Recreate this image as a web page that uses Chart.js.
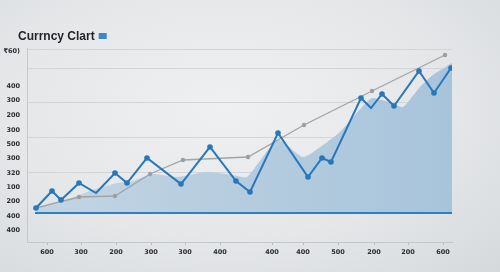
<!DOCTYPE html>
<html>
<head>
<meta charset="utf-8">
<script src="https://cdn.jsdelivr.net/npm/chart.js@4"></script>
<style>
  html, body { margin:0; padding:0; width:500px; height:272px; overflow:hidden;
    background: radial-gradient(ellipse at 45% 40%, #eef0f1 0%, #e5e7e9 55%, #d6d9dc 100%); }
  #wrap { position:relative; width:500px; height:272px; }
</style>
</head>
<body>
<div id="wrap"><canvas id="c" width="500" height="272"></canvas></div>
<script>
// ---- Data ----
const chartTitle = 'Currncy Clart';
const xTickPos    = [20, 54, 89, 124, 158, 193, 245, 276, 311, 347, 381, 416];
const xTickLabels = ['600','300','200','300','300','400','400','400','500','200','200','600'];
const yTickPos    = [191, 156, 142, 127, 112, 98, 84, 69, 55, 41, 26, 12];
const yTickLabels = ['₹60)','400','300','200','300','500','300','320','100','200','400','400'];
const yGridPos    = [193, 174, 140, 105, 70];

const rateX = [9, 25, 34, 52, 69, 88, 100, 120, 154, 183, 209, 223, 251, 281, 295, 304, 334, 344, 355, 367, 392, 407, 424];
const rateY = [34, 51, 42, 59, 49, 69, 59, 84, 58, 95, 61, 50, 109, 65, 84, 80, 144, 134, 148, 136, 171, 149, 174];
const rateDot = [1,1,1,1,0,1,1,1,1,1,1,1,1,1,1,1,1,0,1,1,1,1,1];

const trendX = [9, 52, 88, 123, 156, 221, 277, 345, 418];
const trendY = [34, 45, 46, 68, 82, 85, 117, 151, 187];

const areaX = [9, 33, 60, 90, 103, 126, 150, 180, 206, 220, 251, 276, 296, 313, 335, 345, 355, 365, 376, 393, 406, 425];
const areaY = [34, 39, 50, 59, 60, 68, 65, 70, 67, 65, 102, 85, 97, 110, 135, 144, 142, 139, 135, 155, 167, 179];

const baseLevel = 29;
const baseFrom = 8, baseTo = 425;

const toPts = (xs, ys) => xs.map((x, i) => ({ x: x, y: ys[i] }));

const titlePlugin = {
  id: 'titleSq',
  afterDraw(chart) {
    const c = chart.ctx;
    c.save();
    c.font = 'bold 12px "Liberation Sans", Arial, sans-serif';
    c.fillStyle = '#1f2226';
    c.textBaseline = 'alphabetic';
    c.textAlign = 'left';
    c.fillText(chartTitle, 18, 40);
    const w = c.measureText(chartTitle).width;
    c.fillStyle = '#3b87c9';
    c.fillRect(18 + w + 4, 33, 8, 6);
    c.restore();
  }
};

const tickFont = { family: '"DejaVu Sans", "Noto Sans", sans-serif', size: 6.5, weight: 'bold' };

new Chart(document.getElementById('c'), {
  type: 'line',
  data: {
    datasets: [
      {
        label: 'rate', data: toPts(rateX, rateY), order: 0,
        borderColor: '#2677bb', borderWidth: 2, tension: 0,
        pointRadius: rateDot.map(d => d ? 2.8 : 0), pointBackgroundColor: '#2677bb', pointBorderWidth: 0,
        fill: false
      },
      {
        label: 'trend', data: toPts(trendX, trendY), order: 1,
        borderColor: '#a2a4a6', borderWidth: 1.3, tension: 0,
        pointRadius: 2.2, pointBackgroundColor: '#9c9ea0', pointBorderWidth: 0,
        fill: false
      },
      {
        label: 'base', data: [{x: baseFrom, y: baseLevel}, {x: baseTo, y: baseLevel}], order: 2,
        borderColor: '#2f7fc1', borderWidth: 2, pointRadius: 0, fill: false
      },
      {
        label: 'area', data: toPts(areaX, areaY), order: 3,
        borderWidth: 0, pointRadius: 0, tension: 0.2,
        fill: { value: baseLevel },
        backgroundColor: (ctx) => {
          const ca = ctx.chart.chartArea;
          if (!ca) return '#b5cde0';
          const g = ctx.chart.ctx.createLinearGradient(ca.left, 0, ca.right, 0);
          g.addColorStop(0, '#c3d5e3');
          g.addColorStop(1, '#a8c4db');
          return g;
        }
      }
    ]
  },
  options: {
    responsive: false, animation: false,
    layout: { padding: { top: 48, right: 48, left: 0, bottom: 0 } },
    plugins: { legend: { display: false }, tooltip: { enabled: false }, title: { display: false } },
    scales: {
      x: {
        type: 'linear', position: 'bottom', min: 0, max: 425,
        afterBuildTicks: (s) => { s.ticks = xTickPos.map(v => ({ value: v })); },
        afterFit: (s) => { s.height = 30; },
        ticks: {
          autoSkip: false, maxRotation: 0, padding: 3, color: '#2b2d30', font: tickFont,
          callback: (v, i) => xTickLabels[i]
        },
        grid: { drawOnChartArea: false, tickLength: 3, color: '#b7bbbf' },
        border: { color: '#c4c7ca', width: 1 }
      },
      yl: {
        type: 'linear', position: 'left', min: 0, max: 194,
        afterBuildTicks: (s) => { s.ticks = yTickPos.map(v => ({ value: v })); },
        afterFit: (s) => { s.width = 27; },
        ticks: {
          autoSkip: false, padding: 7, color: '#2b2d30', font: tickFont,
          callback: (v, i) => yTickLabels[i]
        },
        grid: { display: false, drawTicks: false },
        border: { display: true, color: '#c6c9cc', width: 1 }
      },
      y: {
        type: 'linear', position: 'right', min: 0, max: 194,
        afterBuildTicks: (s) => { s.ticks = yGridPos.map(v => ({ value: v })); },
        afterFit: (s) => { s.width = 0; },
        ticks: { display: false },
        grid: { color: '#d3d5d8', lineWidth: 1, drawTicks: false },
        border: { display: false }
      }
    }
  },
  plugins: [titlePlugin]
});
</script>
</body>
</html>
